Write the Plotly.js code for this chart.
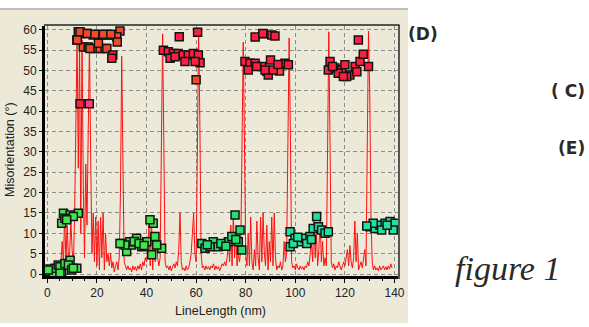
<!DOCTYPE html>
<html><head><meta charset="utf-8">
<script src="https://cdn.plot.ly/plotly-3.0.1.min.js"></script>
<style>html,body{margin:0;padding:0;background:#fff;}#chart{width:589px;height:327px;}</style>
</head><body><div id="chart"></div>
<script>
// Red misorientation profile along the line (x in nm, y in degrees)
const lineX = [0,0.5,1,1.5,2,2.5,3,3.5,4,4.5,5,5.5,6,6.5,7,7.5,8,8.5,9,9.5,
10,10.5,11,11.5,12,12.5,13,13.5,14,14.5,15,15.5,16,16.5,17,17.5,18,18.5,19,19.5,
20,20.5,21,21.5,22,22.5,23,23.5,24,24.5,25,25.5,26,26.5,27,27.5,28,28.5,29,29.5,
30,30.5,31,31.5,32,32.5,33,33.5,34,34.5,35,35.5,36,36.5,37,37.5,38,38.5,39,39.5,
40,40.5,41,41.5,42,42.5,43,43.5,44,44.5,45,45.5,46,46.5,47,47.5,48,48.5,49,49.5,
50,50.5,51,51.5,52,52.5,53,53.5,54,54.5,55,55.5,56,56.5,57,57.5,58,58.5,59,59.5,
60,60.5,61,61.5,62,62.5,63,63.5,64,64.5,65,65.5,66,66.5,67,67.5,68,68.5,69,69.5,
70,70.5,71,71.5,72,72.5,73,73.5,74,74.5,75,75.5,76,76.5,77,77.5,78,78.5,79,79.5,
80,80.5,81,81.5,82,82.5,83,83.5,84,84.5,85,85.5,86,86.5,87,87.5,88,88.5,89,89.5,
90,90.5,91,91.5,92,92.5,93,93.5,94,94.5,95,95.5,96,96.5,97,97.5,98,98.5,99,99.5,
100,100.5,101,101.5,102,102.5,103,103.5,104,104.5,105,105.5,106,106.5,107,107.5,108,108.5,109,109.5,
110,110.5,111,111.5,112,112.5,113,113.5,114,114.5,115,115.5,116,116.5,117,117.5,118,118.5,119,119.5,
120,120.5,121,121.5,122,122.5,123,123.5,124,124.5,125,125.5,126,126.5,127,127.5,128,128.5,129,129.5,
130,130.5,131,131.5,132,132.5,133,133.5,134,134.5,135,135.5,136,136.5,137,137.5,138,138.5,139];
const lineY = [0.2,0.5,0.3,0.8,1,0.7,1.5,1.2,2,2.5,
2.2,3,8,2.5,15,3,12,4,5,13,
6,2,14,35,58,26,56,10,57.5,22,
4,27,12,35,57,28,5,15,3,14,
2,13,1,14,4,15,1,10,3,5,
2,5,1.5,3,0.5,2,3,1,4,20,
53.5,27,3,2,1,2,1,1.5,0.5,2,
1,1.8,0.8,2,1.2,2.5,1,3,2,4,
3,6,12,2,14,1,8,3,10,4,
2,4,30,59,31,3,1.5,2,1,2,
0.8,1.5,2.5,1.5,3,2,6,15,3,1,
1.5,0.8,2,1,1.5,3,5,10,15,5,
3,30,60,38,5,1.5,2,1,2,1.2,
1.8,1,2,1.5,2.5,1,2,1.2,1.8,0.8,
1.5,2.5,2,3,2,4,8,3,12,2,
15,4,10,2,5,3,6,30,57,32,
5,2,10,2,14,3,1,6,2,13,
4,1,14,3,15,5,2,12,1,8,
3,14,2,15,4,1,2,1.5,3,1,
2,8,3,5,33,58,35,3,1.5,2,
1,2.5,1.5,1,2,1.2,1.8,1,2,1.5,
3,2,5,8,3,14,4,10,2,6,
14,3,8,2,4,2,30,59.5,32,3,
1.5,2.5,1,2,1.5,3,2,1,2,3,
2,4,6,2,7,3,1.5,4,13,3,
10,1,2,3,1.5,4,6,2,33,59.7,
45,14,3,1,2,1,1.5,0.8,2,1,
1.5,2,1,1.8,1,2,1.2,2.5,1.5];

// High-angle grain measurements (orange-red)
const hiOrangeX = [12.5,13.9,15.9,18.5,20.6,22.6,24.6,26.6,29.3,28,11.9,14.5,16.5,19.2,21.3,23.3,20.6,28.2,13.2,16.1,19.2,22.6,25.6,12.1,17.2,24,60,93.6];
const hiOrangeY = [59.5,59.1,59.1,58.7,58.7,58.7,58.7,58.7,59.7,58.3,57.5,55.8,55.8,55.4,55.4,55.4,56.7,57,59.5,59.1,58.9,58.9,58.9,57.5,55.4,55.4,47.7,49.9];
// High-angle grain measurements (crimson)
const hiRedX = [26.4,26,13.2,
46.8,48.8,50.8,52.8,54.8,56.8,58.9,60.9,49.5,55.5,61.6,59.6,51.5,53.2,60.6,
79.7,81.7,83.8,86.4,90,88.5,81,83.8,87.1,90.5,86.9,91.8,84.4,89.1,95.8,97.2,91.1,87.8,93,
114,113.3,116,118.7,120,122,120.7,124.1,124.8,126.1,127.4,129.5,125.4,117.3,119.4,115];
const hiRedY = [53.8,53,41.8,
55,54.6,54.2,54.2,53.8,53.8,54.2,53.8,53,52.2,51.9,52.2,53.4,58.3,59.4,
52.2,51.8,51.8,51,52.6,49.8,50.1,58.2,59,58.7,59.1,58.5,51,48.9,51.8,51.4,50.1,50.1,51.5,
52.2,50.1,50.6,50.1,51.4,48.9,48.5,51,49.7,52.2,54,51,57.5,49.3,48.5,51];
const pinkX = [16.9];
const pinkY = [41.8];
// Low-angle measurements
const greenX = [-0.2,1.1,2.4,3.1,4.4,5.8,5.1,7.1,9.2,8.5,9.8,11.9,5.8,6.5,9.2,7.1,12.5,10.5,7.8,0.4,5.1,10.5,
30,32,34,36,38.1,40.1,42.1,43.4,42.7,41.4,46.1,44.1,33.3,31.3,29.3,35,37,39];
const greenY = [0.6,1.2,0.2,1.4,2.2,0.6,1.8,2.6,3.4,2.2,1,1.4,12.5,14.9,14.5,13.7,14.9,14.1,13.3,1,0.2,1.4,
7.5,5.5,7.1,8.8,6.7,7.9,4.7,9.2,12.5,13.3,6.3,7.1,7.9,7.1,7.5,8,7.5,7];
const green2X = [62.3,63.6,66.9,68.9,71,73,74.4,77.7,75.7,78.4,65.6,77,64.5,70,72,76];
const green2Y = [7.5,6.3,7.9,6.7,7.1,7.9,9.2,10.8,14.5,5.9,6.7,7.9,7.2,7.5,6.8,8.5];
const tealX = [97.9,97.9,99.9,101.9,103.9,105.9,107.2,108.6,109.3,110.6,112,113.3,99.2,104.6,101,106.5,
130.1,132.1,134.1,136.2,138.2,140.2,139.5,131.4,134.8,128.8,137];
const tealY = [10.4,6.7,8.8,7.9,8.8,9.2,11.2,14.1,11.6,10.8,10,10.4,7.5,7.5,9,8.5,
11.6,11.2,12,12.5,12.9,12.5,10.8,12.5,10.8,11.8,12];

const xTicks = [0,20,40,60,80,100,120,140];
const yTicks = [0,5,10,15,20,25,30,35,40,45,50,55,60];

function sq(x, y, color) {
  return {x: x, y: y, type: 'scatter', mode: 'markers', hoverinfo: 'skip',
    marker: {symbol: 'square', size: 8, color: color, line: {color: '#141414', width: 1.5}}};
}
const traces = [
  {x: lineX, y: lineY, type: 'scatter', mode: 'lines', line: {color: '#ff1010', width: 1}, hoverinfo: 'skip'},
  sq(hiOrangeX, hiOrangeY, '#f24a28'),
  sq(hiRedX, hiRedY, '#ff1e40'),
  sq(pinkX, pinkY, '#ff3c80'),
  sq(greenX, greenY, '#3ee84a'),
  sq(green2X, green2Y, '#22e070'),
  sq(tealX, tealY, '#22e09e')
];

const W = 353, H = 250, L = 45, T = 26;
function px(p) { return (p - L) / W; }
function py(p) { return (T + H - p) / H; }
const tickFont = {family: 'Arial, Liberation Sans, sans-serif', size: 12, color: '#222'};
const gridStyle = {showgrid: true, gridcolor: '#8c8c8c', gridwidth: 1, griddash: '4px,3px', zeroline: false,
  showline: true, linecolor: '#000', linewidth: 3, ticks: 'outside', tickcolor: '#000', tickwidth: 1, tickfont: tickFont};
function note(text, x, y, font, extra) {
  return Object.assign({text: text, xref: 'paper', yref: 'paper', x: px(x), y: py(y),
    xanchor: 'center', yanchor: 'middle', showarrow: false, font: font}, extra || {});
}
const labelFont = {family: 'DejaVu Sans', size: 17, color: '#2a2a2a'};

const layout = {
  width: 589, height: 327,
  margin: {l: L, r: 589 - L - W, t: T, b: 327 - T - H},
  paper_bgcolor: '#ffffff', plot_bgcolor: '#ece9d9',
  showlegend: false,
  xaxis: Object.assign({}, gridStyle, {range: [-0.93, 141.4], tickvals: xTicks, ticklen: 4,
    minor: {ticks: 'outside', dtick: 5, ticklen: 2, tickcolor: '#000', showgrid: false}}),
  yaxis: Object.assign({}, gridStyle, {range: [-0.49, 60.93], tickvals: yTicks, ticklen: 3}),
  shapes: [
    {type: 'rect', xref: 'paper', yref: 'paper', x0: px(0), x1: px(408), y0: py(323), y1: py(9),
      fillcolor: '#ece9d9', line: {width: 0}, layer: 'below'},
    {type: 'line', xref: 'paper', yref: 'paper', x0: px(0), x1: px(408), y0: py(9), y1: py(9),
      line: {color: '#a8a8a8', width: 1.5}, layer: 'below'},
    {type: 'line', xref: 'paper', yref: 'paper', x0: px(44), x1: px(399.5), y0: py(25), y1: py(25),
      line: {color: '#222', width: 1.5}},
    {type: 'line', xref: 'paper', yref: 'paper', x0: px(399), x1: px(399), y0: py(25), y1: py(279),
      line: {color: '#222', width: 1.5}}
  ],
  annotations: [
    note('Misorientation (°)', 10, 150, {family: 'Arial, Liberation Sans, sans-serif', size: 12.5, color: '#222'}, {textangle: -90}),
    note('LineLength (nm)', 220, 311, {family: 'Arial, Liberation Sans, sans-serif', size: 12.5, color: '#222'}),
    note('<b>(D)</b>', 406, 34, labelFont, {xanchor: 'left'}),
    note('<b>( C)</b>', 587, 90.5, labelFont, {xanchor: 'right'}),
    note('<b>(E)</b>', 587, 148, labelFont, {xanchor: 'right'}),
    note('<i>figure 1</i>', 507, 268, {family: 'Liberation Serif, serif', size: 34, color: '#2a2a2a'})
  ]
};
Plotly.newPlot('chart', traces, layout, {staticPlot: true, displayModeBar: false});
</script></body></html>
